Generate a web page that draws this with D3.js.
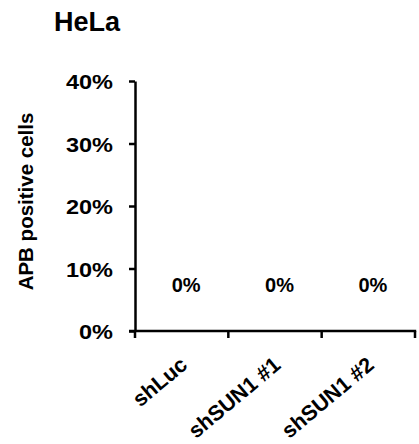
<!DOCTYPE html>
<html>
<head>
<meta charset="utf-8">
<script src="https://cdn.jsdelivr.net/npm/d3@7"></script>
<style>
  html, body { margin: 0; padding: 0; background: #fff; }
  svg { display: block; }
  text { font-family: "Liberation Sans", Arial, sans-serif; font-weight: bold; fill: #000; }
</style>
</head>
<body>
<svg id="chart" width="419" height="444"></svg>
<script>
const categories = ["shLuc", "shSUN1 #1", "shSUN1 #2"];
const values = [0, 0, 0];
const valueLabels = ["0%", "0%", "0%"];
const yTicks = [0, 0.1, 0.2, 0.3, 0.4];
const yTickLabels = ["0%", "10%", "20%", "30%", "40%"];
const title = "HeLa";
const yLabel = "APB positive cells";

(function () {
const svg = d3.select("#chart");
const mLeft = 135, mRight = 415, mTop = 81, mBottom = 331;
const FONT = '"Liberation Sans", Arial, sans-serif';

const x = d3.scaleBand().domain(categories).range([mLeft, mRight]).paddingInner(0).paddingOuter(0);
const y = d3.scaleLinear().domain([0, 0.4]).range([mBottom, mTop]);

// bars (zero height)
svg.append("g").selectAll("rect").data(values).join("rect")
  .attr("x", (d, i) => x(categories[i]) + x.bandwidth() * 0.2)
  .attr("width", x.bandwidth() * 0.6)
  .attr("y", d => y(d))
  .attr("height", d => y(0) - y(d))
  .attr("fill", "#000");

// y axis
const yAxis = svg.append("g").attr("transform", `translate(${mLeft},0)`)
  .call(d3.axisLeft(y).tickValues(yTicks).tickFormat((d, i) => yTickLabels[i]).tickSizeInner(6).tickSizeOuter(0).tickPadding(16));
yAxis.select(".domain").attr("stroke", "#000").attr("stroke-width", 2.5);
yAxis.selectAll(".tick line").attr("stroke", "#000").attr("stroke-width", 2.5);
yAxis.selectAll(".tick text")
  .style("font-size", "21px").style("font-family", FONT).style("font-weight", "bold")
  .attr("fill", "#000").attr("dy", "0.36em")
  .attr("x", 0).attr("transform", "translate(-22,0) scale(1.12,1)");

// x axis: line with ticks at band boundaries
const xg = svg.append("g");
xg.append("line").attr("x1", mLeft - 6).attr("x2", mRight + 1.2).attr("y1", mBottom).attr("y2", mBottom)
  .attr("stroke", "#000").attr("stroke-width", 2.5);
const bounds = categories.map(c => x(c)).concat([x(categories[categories.length - 1]) + x.bandwidth()]);
xg.selectAll("line.tk").data(bounds).join("line").attr("class", "tk")
  .attr("x1", d => d).attr("x2", d => d).attr("y1", mBottom).attr("y2", mBottom + 7)
  .attr("stroke", "#000").attr("stroke-width", 2.5);

// x labels rotated
xg.selectAll("text.xl").data(categories).join("text").attr("class", "xl")
  .attr("transform", d => `translate(${x(d) + x.bandwidth() / 2 + 7},${mBottom + 36}) rotate(-40)`)
  .attr("text-anchor", "end")
  .style("font-size", "21.5px")
  .text(d => d);

// value labels
svg.selectAll("text.vl").data(values).join("text").attr("class", "vl")
  .attr("x", (d, i) => x(categories[i]) + x.bandwidth() / 2 + 4.5)
  .attr("y", d => y(d) - 39)
  .attr("text-anchor", "middle")
  .style("font-size", "20px")
  .attr("fill", "#222")
  .text((d, i) => valueLabels[i]);

// title
svg.append("text").attr("x", 54).attr("y", 31).style("font-size", "27px").text(title);

// y label
svg.append("text").attr("transform", `translate(33,${(113 + 290) / 2}) rotate(-90)`)
  .attr("text-anchor", "middle").style("font-size", "20.5px").text(yLabel);
})();
</script>
</body>
</html>
